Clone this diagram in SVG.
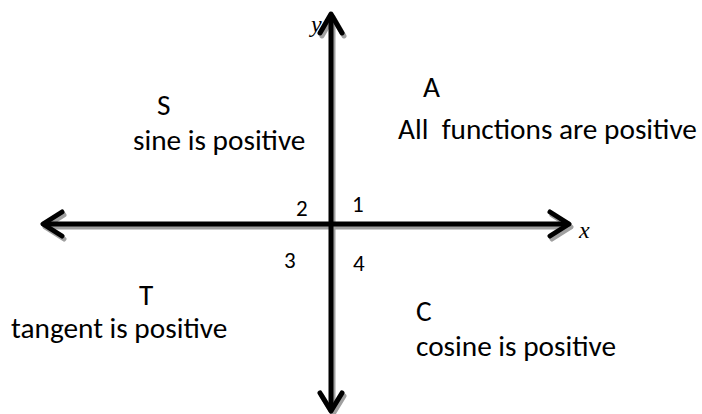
<svg xmlns="http://www.w3.org/2000/svg" width="702" height="414" viewBox="0 0 702 414">
<style>
.lbl{font-family:"Carlito","Liberation Sans",Arial,sans-serif;font-size:29.3px;fill:#000}
.num{font-family:"Carlito","Liberation Sans",Arial,sans-serif;font-size:23px;fill:#000}
.ax{font-family:"Liberation Serif","Times New Roman",serif;font-style:italic;font-size:24px;fill:#000}
.sh{stroke:#a0a0a0;stroke-width:5;fill:none;stroke-linecap:round;stroke-linejoin:round}
.ln{stroke:#000;stroke-width:5;fill:none;stroke-linecap:round;stroke-linejoin:round}
</style>
<rect width="702" height="414" fill="#fff"/>
<g id="connectors">
<g transform="translate(2,3)">
<path class="sh" d="M44 224H568M331 16V410"/>
<path class="sh" d="M550 212L569 224L550 236M62 212L43 224L62 236M320 33L331 14L342 33M320 393L331 411L342 393"/>
</g>
<path class="ln" d="M44 224H568M331 16V410"/>
<path class="ln" d="M550 212L569 224L550 236M62 212L43 224L62 236M320 33L331 14L342 33M320 393L331 411L342 393"/>
</g>
<g id="axis-labels">
<text class="ax" x="311" y="32">y</text>
<text class="ax" x="579" y="238">x</text>
</g>
<g id="q1"><text class="lbl" x="423" y="97">A</text><text class="lbl" x="398" y="139" xml:space="preserve">All  functions are positive</text></g>
<g id="q2"><text class="lbl" x="157" y="115">S</text><text class="lbl" x="133" y="150">sine is positive</text></g>
<g id="q3"><text class="lbl" x="139" y="305">T</text><text class="lbl" x="11" y="338">tangent is positive</text></g>
<g id="q4"><text class="lbl" x="416" y="321">C</text><text class="lbl" x="416" y="356">cosine is positive</text></g>
<g id="nums">
<text class="num" x="296" y="216">2</text>
<text class="num" x="352" y="212">1</text>
<text class="num" x="284" y="268">3</text>
<text class="num" x="353" y="271">4</text>
</g>
</svg>
